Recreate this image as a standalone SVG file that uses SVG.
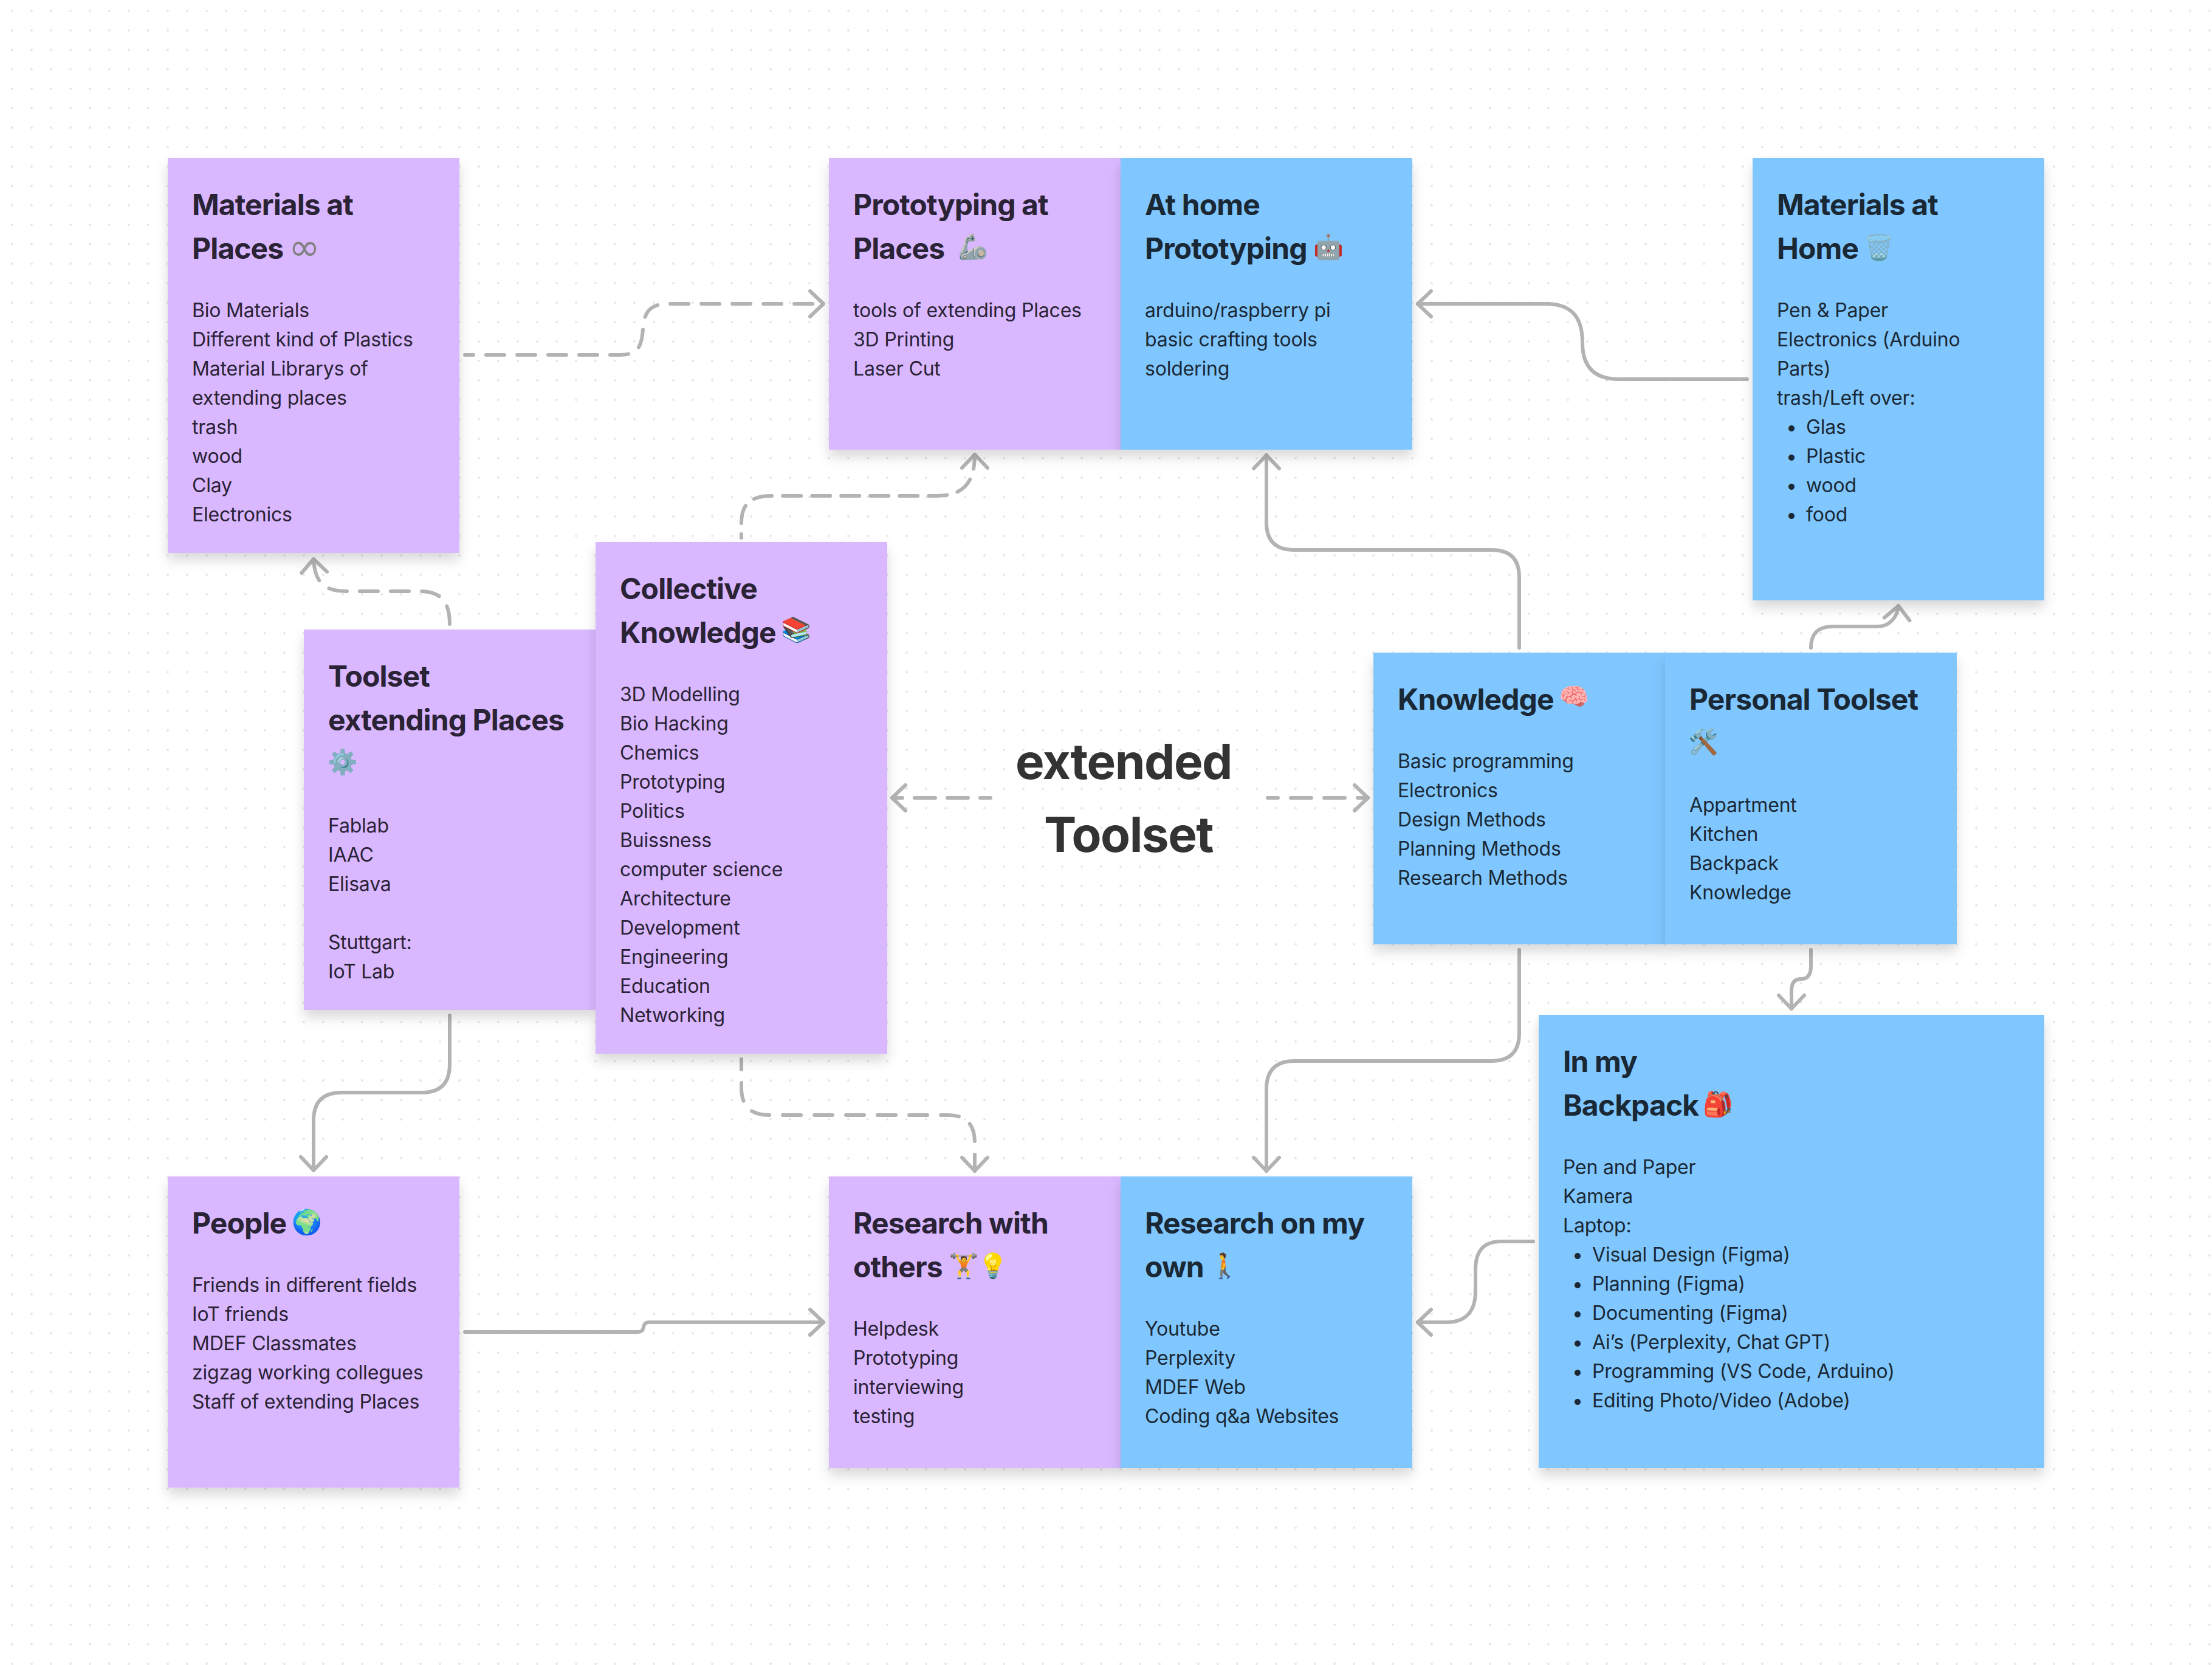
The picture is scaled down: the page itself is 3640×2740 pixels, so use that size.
<svg xmlns="http://www.w3.org/2000/svg" width="3640" height="2740" viewBox="0 0 3640 2740">
<defs>
<pattern id="dots" x="4" y="2" width="32" height="32" patternUnits="userSpaceOnUse"><circle cx="16" cy="16" r="2" fill="#e6e6e6"/></pattern>
<filter id="sh" x="-15%" y="-15%" width="130%" height="130%"><feDropShadow dx="0" dy="12" stdDeviation="10" flood-color="#000" flood-opacity="0.15"/></filter>
<marker id="ah" markerUnits="userSpaceOnUse" markerWidth="60" markerHeight="60" refX="30" refY="30" orient="auto" overflow="visible"><path d="M8 9 L30 30 L8 51" fill="none" stroke="#b3b3b3" stroke-width="6" stroke-linecap="round" stroke-linejoin="round"/></marker>
</defs>
<style>
.c{fill:none;stroke:#b3b3b3;stroke-width:6;stroke-linecap:round;marker-end:url(#ah)}
.d{stroke-dasharray:30 21}
.p{fill:#d9b8ff;filter:url(#sh)}
.b{fill:#80c7ff;filter:url(#sh)}
text{font-family:Inter,"Noto Sans",sans-serif}
.tp{fill:#2a2235}.tb{fill:#1a2835}
.h{font-size:48px;font-weight:700;letter-spacing:-0.9px}
.t{font-size:32px;letter-spacing:-0.2px}
.e{font-size:40px;letter-spacing:0;font-weight:400}
.i{font-family:"DejaVu Sans",sans-serif;font-size:62px;font-weight:400;fill:#808080;letter-spacing:0}
.title{font-size:80px;font-weight:700;fill:#333;letter-spacing:-1.5px}
</style>
<rect width="3640" height="2740" fill="#fff"/>
<rect width="3640" height="2740" fill="url(#dots)"/>
<g id="connectors">
<path class="c d" stroke-dashoffset="16" d="M765 584H1020C1050 584 1056 570 1058 542C1060 514 1068 500 1100 500H1355"/>
<path class="c" style="stroke-dasharray:30 18" stroke-dashoffset="24" d="M1220 885V860C1220 830 1235 816 1270 816H1540C1580 816 1604 800 1604 748"/>
<path class="c d" d="M740 1027C740 990 725 973 690 973H570C535 973 518 960 516 920"/>
<path class="c" d="M740 1671V1752Q740 1798 694 1798H562Q516 1798 516 1844V1926"/>
<path class="c" style="stroke-dasharray:30 22" stroke-dashoffset="13" d="M1220 1743V1790Q1220 1835 1265 1835H1560Q1604 1835 1604 1880V1927"/>
<path class="c" d="M765 2192H1050Q1058 2192 1059 2184Q1060 2176 1068 2176H1355"/>
<path class="c" d="M2875 624H2664C2620 624 2604 600 2604 564C2604 524 2588 500 2544 500H2333"/>
<path class="c" d="M2500 1066V950Q2500 905 2455 905H2130Q2084 905 2084 860V749"/>
<path class="c" d="M2500 1563V1700Q2500 1746 2454 1746H2130Q2084 1746 2084 1792V1927"/>
<path class="c" d="M2980 1066C2980 1045 2990 1031 3015 1031H3090C3110 1031 3122 1015 3124 997"/>
<path class="c" d="M2980 1563V1590Q2980 1611 2964 1611Q2948 1611 2948 1630V1660"/>
<path class="c" d="M2523 2043H2470C2440 2043 2428 2060 2428 2090V2125C2428 2160 2410 2176 2380 2176H2333"/>
<path class="c" style="stroke-dasharray:34 20" stroke-dashoffset="17" d="M1630 1313H1468"/>
<path class="c" style="stroke-dasharray:34 21" stroke-dashoffset="17" d="M2086 1313H2251"/>
</g>
<g id="materials-places"><rect class="p" x="276" y="260" width="480" height="650"/>
<text class="tp h" x="316" y="354">Materials at</text><text class="tp h" x="316" y="426">Places <tspan class="i" x="475" y="428">∞</tspan></text>
<text class="tp t"><tspan x="316" y="522">Bio Materials</tspan><tspan x="316" y="570">Different kind of Plastics</tspan><tspan x="316" y="618">Material Librarys of</tspan><tspan x="316" y="666">extending places</tspan><tspan x="316" y="714">trash</tspan><tspan x="316" y="762">wood</tspan><tspan x="316" y="810">Clay</tspan><tspan x="316" y="858">Electronics</tspan></text></g>
<g id="prototyping-places"><rect class="p" x="1364" y="260" width="480" height="480"/>
<text class="tp h" x="1404" y="354">Prototyping at</text><text class="tp h" x="1404" y="426">Places <tspan class="e" x="1576" y="420">🦾</tspan></text>
<text class="tp t"><tspan x="1404" y="522">tools of extending Places</tspan><tspan x="1404" y="570">3D Printing</tspan><tspan x="1404" y="618">Laser Cut</tspan></text></g>
<g id="at-home"><rect class="b" x="1844" y="260" width="480" height="480"/>
<text class="tb h" x="1884" y="354">At home</text><text class="tb h" x="1884" y="426">Prototyping <tspan class="e" x="2161" y="420">🤖</tspan></text>
<text class="tb t"><tspan x="1884" y="522">arduino/raspberry pi</tspan><tspan x="1884" y="570">basic crafting tools</tspan><tspan x="1884" y="618">soldering</tspan></text></g>
<g id="materials-home"><rect class="b" x="2884" y="260" width="480" height="728"/>
<text class="tb h" x="2924" y="354">Materials at</text><text class="tb h" x="2924" y="426">Home <tspan class="e" x="3067" y="421">🗑️</tspan></text>
<text class="tb t"><tspan x="2924" y="522">Pen &amp; Paper</tspan><tspan x="2924" y="570">Electronics (Arduino</tspan><tspan x="2924" y="618">Parts)</tspan><tspan x="2924" y="666">trash/Left over:</tspan><tspan x="2948" y="714" text-anchor="middle">•</tspan><tspan x="2972" y="714">Glas</tspan><tspan x="2948" y="762" text-anchor="middle">•</tspan><tspan x="2972" y="762">Plastic</tspan><tspan x="2948" y="810" text-anchor="middle">•</tspan><tspan x="2972" y="810">wood</tspan><tspan x="2948" y="858" text-anchor="middle">•</tspan><tspan x="2972" y="858">food</tspan></text></g>
<g id="toolset"><rect class="p" x="500" y="1036" width="480" height="626"/>
<text class="tp h" x="540" y="1130">Toolset</text><text class="tp h" x="540" y="1202">extending Places</text><text class="tp h"><tspan class="e" x="539" y="1268">⚙️</tspan></text>
<text class="tp t"><tspan x="540" y="1370">Fablab</tspan><tspan x="540" y="1418">IAAC</tspan><tspan x="540" y="1466">Elisava</tspan><tspan x="540" y="1562">Stuttgart:</tspan><tspan x="540" y="1610">IoT Lab</tspan></text></g>
<g id="collective"><rect class="p" x="980" y="892" width="480" height="842"/>
<text class="tp h" x="1020" y="986">Collective</text><text class="tp h" x="1020" y="1058">Knowledge <tspan class="e" x="1285" y="1050">📚</tspan></text>
<text class="tp t"><tspan x="1020" y="1154">3D Modelling</tspan><tspan x="1020" y="1202">Bio Hacking</tspan><tspan x="1020" y="1250">Chemics</tspan><tspan x="1020" y="1298">Prototyping</tspan><tspan x="1020" y="1346">Politics</tspan><tspan x="1020" y="1394">Buissness</tspan><tspan x="1020" y="1442">computer science</tspan><tspan x="1020" y="1490">Architecture</tspan><tspan x="1020" y="1538">Development</tspan><tspan x="1020" y="1586">Engineering</tspan><tspan x="1020" y="1634">Education</tspan><tspan x="1020" y="1682">Networking</tspan></text></g>
<g id="title"><text class="title" x="1849" y="1282" text-anchor="middle">extended</text><text class="title" x="1857" y="1402" text-anchor="middle">Toolset</text></g>
<g id="knowledge"><rect class="b" x="2260" y="1074" width="480" height="480"/>
<text class="tb h" x="2300" y="1168">Knowledge <tspan class="e" x="2565" y="1160">🧠</tspan></text>
<text class="tb t"><tspan x="2300" y="1264">Basic programming</tspan><tspan x="2300" y="1312">Electronics</tspan><tspan x="2300" y="1360">Design Methods</tspan><tspan x="2300" y="1408">Planning Methods</tspan><tspan x="2300" y="1456">Research Methods</tspan></text></g>
<g id="personal"><rect class="b" x="2740" y="1074" width="480" height="480"/>
<text class="tb h" x="2780" y="1168">Personal Toolset</text><text class="tb h"><tspan class="e" x="2778" y="1235">🛠️</tspan></text>
<text class="tb t"><tspan x="2780" y="1336">Appartment</tspan><tspan x="2780" y="1384">Kitchen</tspan><tspan x="2780" y="1432">Backpack</tspan><tspan x="2780" y="1480">Knowledge</tspan></text></g>
<g id="people"><rect class="p" x="276" y="1936" width="480" height="512"/>
<text class="tp h" x="316" y="2030">People <tspan class="e" x="480" y="2025">🌍</tspan></text>
<text class="tp t"><tspan x="316" y="2126">Friends in different fields</tspan><tspan x="316" y="2174">IoT friends</tspan><tspan x="316" y="2222">MDEF Classmates</tspan><tspan x="316" y="2270">zigzag working collegues</tspan><tspan x="316" y="2318">Staff of extending Places</tspan></text></g>
<g id="research-others"><rect class="p" x="1364" y="1936" width="480" height="480"/>
<text class="tp h" x="1404" y="2030">Research with</text><text class="tp h" x="1404" y="2102">others <tspan class="e" x="1561" y="2097">🏋️</tspan><tspan class="e" x="1609" y="2097">💡</tspan></text>
<text class="tp t"><tspan x="1404" y="2198">Helpdesk</tspan><tspan x="1404" y="2246">Prototyping</tspan><tspan x="1404" y="2294">interviewing</tspan><tspan x="1404" y="2342">testing</tspan></text></g>
<g id="research-own"><rect class="b" x="1844" y="1936" width="480" height="480"/>
<text class="tb h" x="1884" y="2030">Research on my</text><text class="tb h" x="1884" y="2102">own <tspan class="e" x="1990" y="2097">🚶</tspan></text>
<text class="tb t"><tspan x="1884" y="2198">Youtube</tspan><tspan x="1884" y="2246">Perplexity</tspan><tspan x="1884" y="2294">MDEF Web</tspan><tspan x="1884" y="2342">Coding q&amp;a Websites</tspan></text></g>
<g id="backpack"><rect class="b" x="2532" y="1670" width="832" height="746"/>
<text class="tb h" x="2572" y="1764">In my</text><text class="tb h" x="2572" y="1836">Backpack <tspan class="e" x="2802" y="1831">🎒</tspan></text>
<text class="tb t"><tspan x="2572" y="1932">Pen and Paper</tspan><tspan x="2572" y="1980">Kamera</tspan><tspan x="2572" y="2028">Laptop:</tspan><tspan x="2596" y="2076" text-anchor="middle">•</tspan><tspan x="2620" y="2076">Visual Design (Figma)</tspan><tspan x="2596" y="2124" text-anchor="middle">•</tspan><tspan x="2620" y="2124">Planning (Figma)</tspan><tspan x="2596" y="2172" text-anchor="middle">•</tspan><tspan x="2620" y="2172">Documenting (Figma)</tspan><tspan x="2596" y="2220" text-anchor="middle">•</tspan><tspan x="2620" y="2220">Ai’s (Perplexity, Chat GPT)</tspan><tspan x="2596" y="2268" text-anchor="middle">•</tspan><tspan x="2620" y="2268">Programming (VS Code, Arduino)</tspan><tspan x="2596" y="2316" text-anchor="middle">•</tspan><tspan x="2620" y="2316">Editing Photo/Video (Adobe)</tspan></text></g>
</svg>
